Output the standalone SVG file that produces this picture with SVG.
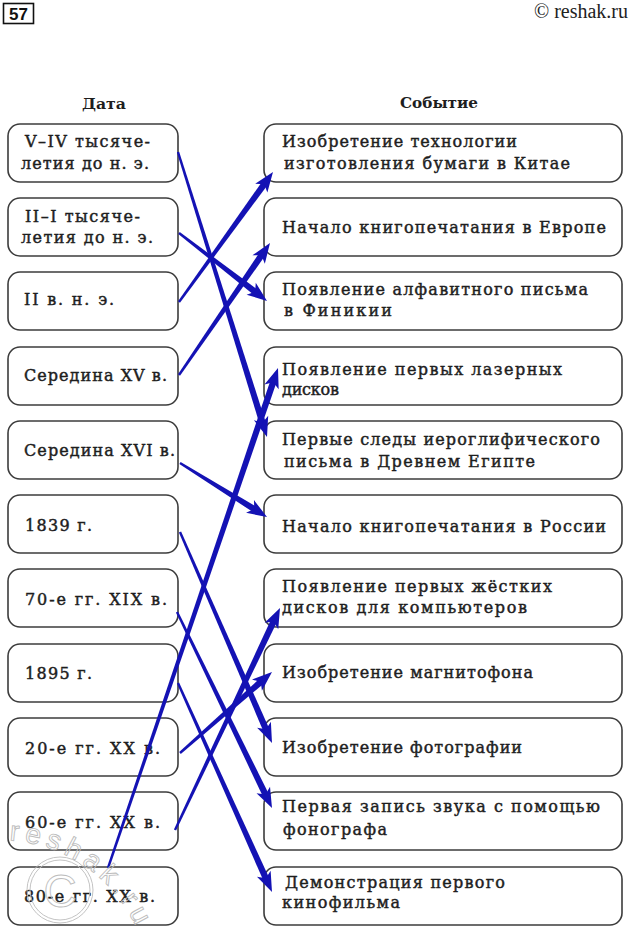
<svg xmlns="http://www.w3.org/2000/svg" xmlns:xlink="http://www.w3.org/1999/xlink" width="631" height="934" viewBox="0 0 631 934">
<style>
.box{fill:#fff;stroke:#3c3c3c;stroke-width:1.6}
.t{font-family:"DejaVu Serif","Liberation Serif",serif;font-size:16px;fill:#1e1e1e;stroke:#1e1e1e;stroke-width:0.45}
.h{font-family:"DejaVu Serif","Liberation Serif",serif;font-size:15px;font-weight:bold;fill:#1e1e1e}
.arr{fill:#1412b4}
.wm{fill:none;stroke:#bcbcbc;stroke-width:0.9}
</style>
<defs>
<polygon id="shaft" points="0,-1.2 100,-3.2 100,3.2 0,1.2"/>
<path id="head" d="M0,0 L-20,-7.5 L-15,0 L-20,7.5 Z"/>
<path id="wmArc" d="M 9.4 840.3 A 150 150 0 0 1 141 938.7"/>
</defs>
<rect width="631" height="934" fill="#fff"/>

<g id="pagenum">
<rect x="3.5" y="3.5" width="30" height="20" fill="none" stroke="#111" stroke-width="1.6"/>
<text x="18.5" y="20" text-anchor="middle" font-family="Liberation Sans,Arial,sans-serif" font-size="17" font-weight="bold" fill="#111">57</text>
</g>
<text id="copyright" x="628" y="18" text-anchor="end" font-family="Liberation Serif,serif" font-size="20" fill="#222">© reshak.ru</text>

<text id="hdr-date" class="h" x="82" y="109" textLength="44" lengthAdjust="spacingAndGlyphs">Дата</text>
<text id="hdr-event" class="h" x="400" y="108" textLength="78" lengthAdjust="spacingAndGlyphs">Событие</text>

<g id="left-1"><rect class="box" x="8" y="124" width="170" height="58" rx="12"/>
<text class="t" x="25" y="147" textLength="125" lengthAdjust="spacing">V–IV тысяче-</text>
<text class="t" x="21" y="169" textLength="128" lengthAdjust="spacing">летия до н. э.</text></g>
<g id="left-2"><rect class="box" x="8" y="198" width="170" height="58" rx="12"/>
<text class="t" x="25" y="222" textLength="115" lengthAdjust="spacing">II–I тысяче-</text>
<text class="t" x="21" y="243" textLength="132" lengthAdjust="spacing">летия до н. э.</text></g>
<g id="left-3"><rect class="box" x="8" y="272" width="170" height="58" rx="12"/>
<text class="t" x="24" y="305" textLength="90" lengthAdjust="spacing">II в. н. э.</text></g>
<g id="left-4"><rect class="box" x="8" y="347" width="170" height="58" rx="12"/>
<text class="t" x="24" y="381" textLength="143" lengthAdjust="spacing">Середина XV в.</text></g>
<g id="left-5"><rect class="box" x="8" y="421" width="170" height="58" rx="12"/>
<text class="t" x="24" y="456" textLength="151" lengthAdjust="spacing">Середина XVI в.</text></g>
<g id="left-6"><rect class="box" x="8" y="495" width="170" height="58" rx="12"/>
<text class="t" x="25" y="531" textLength="67" lengthAdjust="spacing">1839 г.</text></g>
<g id="left-7"><rect class="box" x="8" y="569" width="170" height="58" rx="12"/>
<text class="t" x="25" y="605" textLength="142" lengthAdjust="spacing">70-е гг. XIX в.</text></g>
<g id="left-8"><rect class="box" x="8" y="644" width="170" height="58" rx="12"/>
<text class="t" x="25" y="679" textLength="67" lengthAdjust="spacing">1895 г.</text></g>
<g id="left-9"><rect class="box" x="8" y="718" width="170" height="58" rx="12"/>
<text class="t" x="25" y="754" textLength="135" lengthAdjust="spacing">20-е гг. XX в.</text></g>
<g id="left-10"><rect class="box" x="8" y="792" width="170" height="58" rx="12"/>
<text class="t" x="25" y="828" textLength="135" lengthAdjust="spacing">60-е гг. XX в.</text></g>
<g id="left-11"><rect class="box" x="8" y="867" width="170" height="58" rx="12"/>
<text class="t" x="24" y="902" textLength="131" lengthAdjust="spacing">80-е гг. XX в.</text></g>

<g id="right-1"><rect class="box" x="264" y="124" width="358" height="58" rx="12"/>
<text class="t" x="282" y="147" textLength="235" lengthAdjust="spacing">Изобретение технологии</text>
<text class="t" x="284" y="169" textLength="286" lengthAdjust="spacing">изготовления бумаги в Китае</text></g>
<g id="right-2"><rect class="box" x="264" y="198" width="358" height="58" rx="12"/>
<text class="t" x="282" y="233" textLength="324" lengthAdjust="spacing">Начало книгопечатания в Европе</text></g>
<g id="right-3"><rect class="box" x="264" y="272" width="358" height="58" rx="12"/>
<text class="t" x="282" y="295" textLength="306" lengthAdjust="spacing">Появление алфавитного письма</text>
<text class="t" x="284" y="316" textLength="108" lengthAdjust="spacing">в Финикии</text></g>
<g id="right-4"><rect class="box" x="264" y="347" width="358" height="58" rx="12"/>
<text class="t" x="282" y="375" textLength="280" lengthAdjust="spacing">Появление первых лазерных</text>
<text class="t" x="282" y="395" textLength="57" lengthAdjust="spacing">дисков</text></g>
<g id="right-5"><rect class="box" x="264" y="421" width="358" height="58" rx="12"/>
<text class="t" x="282" y="445" textLength="318" lengthAdjust="spacing">Первые следы иероглифического</text>
<text class="t" x="284" y="467" textLength="251" lengthAdjust="spacing">письма в Древнем Египте</text></g>
<g id="right-6"><rect class="box" x="264" y="495" width="358" height="58" rx="12"/>
<text class="t" x="282" y="532" textLength="324" lengthAdjust="spacing">Начало книгопечатания в России</text></g>
<g id="right-7"><rect class="box" x="264" y="569" width="358" height="58" rx="12"/>
<text class="t" x="282" y="592" textLength="270" lengthAdjust="spacing">Появление первых жёстких</text>
<text class="t" x="282" y="613" textLength="245" lengthAdjust="spacing">дисков для компьютеров</text></g>
<g id="right-8"><rect class="box" x="264" y="644" width="358" height="58" rx="12"/>
<text class="t" x="282" y="678" textLength="251" lengthAdjust="spacing">Изобретение магнитофона</text></g>
<g id="right-9"><rect class="box" x="264" y="718" width="358" height="58" rx="12"/>
<text class="t" x="282" y="753" textLength="240" lengthAdjust="spacing">Изобретение фотографии</text></g>
<g id="right-10"><rect class="box" x="264" y="792" width="358" height="58" rx="12"/>
<text class="t" x="282" y="812" textLength="318" lengthAdjust="spacing">Первая запись звука с помощью</text>
<text class="t" x="283" y="835" textLength="104" lengthAdjust="spacing">фонографа</text></g>
<g id="right-11"><rect class="box" x="264" y="867" width="358" height="58" rx="12"/>
<text class="t" x="285" y="888" textLength="220" lengthAdjust="spacing">Демонстрация первого</text>
<text class="t" x="282" y="908" textLength="118" lengthAdjust="spacing">кинофильма</text></g>

<g id="connectors" class="arr">
<use xlink:href="#shaft" transform="translate(178 152) rotate(72.66) scale(2.8457 1)"/>
<use xlink:href="#head" transform="translate(267 437) rotate(72.66)"/>
<use xlink:href="#shaft" transform="translate(179 233) rotate(37.69) scale(0.9721 1)"/>
<use xlink:href="#head" transform="translate(267 301) rotate(37.69)"/>
<use xlink:href="#shaft" transform="translate(179 302) rotate(-54.13) scale(1.4642 1)"/>
<use xlink:href="#head" transform="translate(273 172) rotate(-54.13)"/>
<use xlink:href="#shaft" transform="translate(179 375) rotate(-55.42) scale(1.4633 1)"/>
<use xlink:href="#head" transform="translate(270 243) rotate(-55.42)"/>
<use xlink:href="#shaft" transform="translate(180 463) rotate(31.83) scale(0.884 1)"/>
<use xlink:href="#head" transform="translate(267 517) rotate(31.83)"/>
<use xlink:href="#shaft" transform="translate(180 532) rotate(66.44) scale(2.1619 1)"/>
<use xlink:href="#head" transform="translate(272 743) rotate(66.44)"/>
<use xlink:href="#shaft" transform="translate(177 612) rotate(64.14) scale(2.0381 1)"/>
<use xlink:href="#head" transform="translate(272 808) rotate(64.14)"/>
<use xlink:href="#shaft" transform="translate(178 683) rotate(65.78) scale(2.1517 1)"/>
<use xlink:href="#head" transform="translate(272 892) rotate(65.78)"/>
<use xlink:href="#shaft" transform="translate(180 753) rotate(-41.36) scale(1.0858 1)"/>
<use xlink:href="#head" transform="translate(272 672) rotate(-41.36)"/>
<use xlink:href="#shaft" transform="translate(175 830) rotate(-64.68) scale(2.3158 1)"/>
<use xlink:href="#head" transform="translate(280 608) rotate(-64.68)"/>
<use xlink:href="#shaft" transform="translate(108 868) rotate(-71.22) scale(5.1411 1)"/>
<use xlink:href="#head" transform="translate(278 368) rotate(-71.22)"/>
</g>

<g id="watermark" class="wm">
<circle cx="60" cy="890" r="33"/>
<circle cx="60" cy="890" r="30"/>
<text x="60" y="907" text-anchor="middle" font-family="Liberation Sans,Arial,sans-serif" font-size="46">C</text>
<text font-family="Liberation Sans,Arial,sans-serif" font-size="28"><textPath xlink:href="#wmArc" textLength="160" lengthAdjust="spacing">reshak.ru</textPath></text>
</g>
</svg>
